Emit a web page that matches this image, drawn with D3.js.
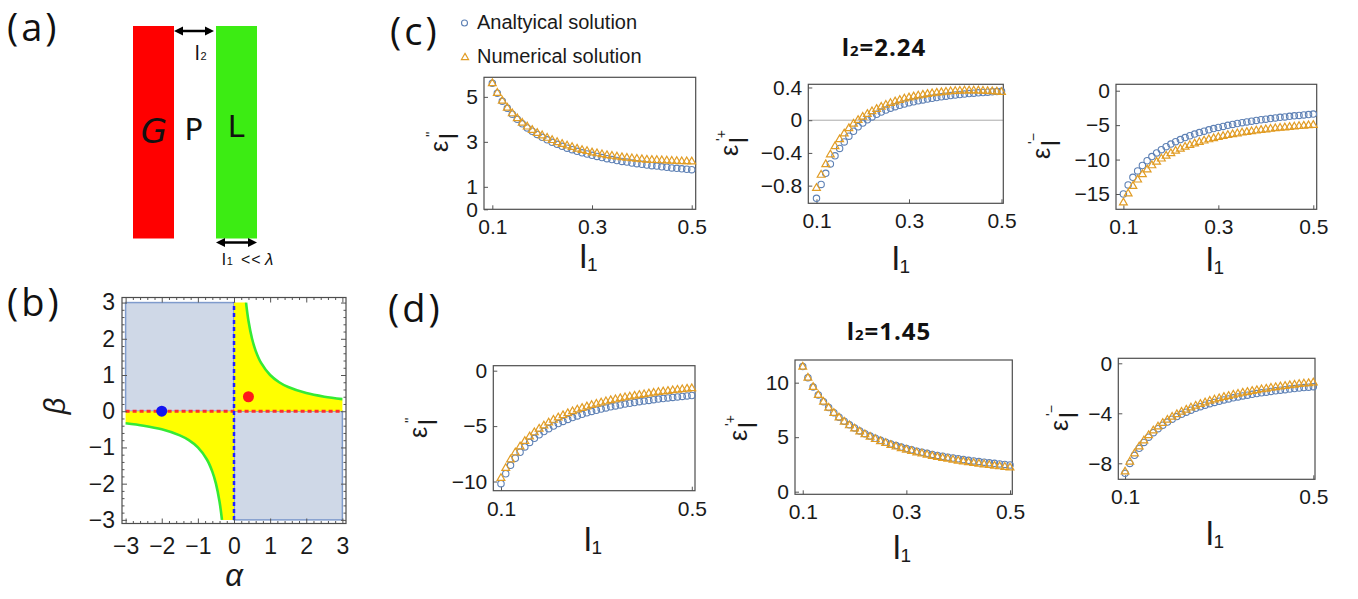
<!DOCTYPE html>
<html>
<head>
<meta charset="utf-8">
<script src="https://cdnjs.cloudflare.com/ajax/libs/d3/7.8.5/d3.min.js"></script>
<style>
  html, body { margin: 0; padding: 0; background: #fff; }
  svg { display: block; }
</style>
</head>
<body>
<script>
// ---------- data ----------
const l1 = [0.10,0.11,0.12,0.13,0.14,0.15,0.16,0.17,0.18,0.19,0.20,0.21,0.22,0.23,0.24,0.25,0.26,0.27,0.28,0.29,
  0.30,0.31,0.32,0.33,0.34,0.35,0.36,0.37,0.38,0.39,0.40,0.41,0.42,0.43,0.44,0.45,0.46,0.47,0.48,0.49,0.50];

// (c) l2 = 2.24
const c1Analytical = [5.60,5.16,4.80,4.49,4.23,4.00,3.80,3.62,3.47,3.33,3.20,3.09,2.98,2.89,2.80,2.72,2.65,2.58,2.51,2.46,
  2.40,2.35,2.30,2.25,2.21,2.17,2.13,2.10,2.06,2.03,2.00,1.97,1.94,1.92,1.89,1.87,1.84,1.82,1.80,1.78,1.76];
const c1Numerical = [5.60,5.17,4.82,4.51,4.26,4.04,3.84,3.67,3.52,3.39,3.28,3.17,3.07,2.98,2.90,2.83,2.76,2.69,2.63,2.58,
  2.52,2.48,2.44,2.40,2.37,2.34,2.31,2.28,2.26,2.24,2.22,2.20,2.19,2.18,2.17,2.16,2.15,2.14,2.13,2.13,2.12];
const c2Analytical = [-0.955,-0.785,-0.65,-0.535,-0.435,-0.345,-0.265,-0.195,-0.135,-0.08,-0.035,0.005,0.04,0.072,0.10,0.125,0.147,0.166,0.183,0.198,
  0.212,0.225,0.237,0.248,0.258,0.268,0.277,0.286,0.294,0.301,0.308,0.314,0.32,0.325,0.33,0.335,0.339,0.343,0.347,0.35,0.353];
const c2Numerical = [-0.83,-0.67,-0.54,-0.42,-0.32,-0.235,-0.165,-0.10,-0.045,0.0,0.04,0.075,0.107,0.136,0.162,0.186,0.208,0.228,0.246,0.262,
  0.276,0.289,0.30,0.31,0.319,0.327,0.334,0.34,0.346,0.351,0.355,0.358,0.36,0.361,0.361,0.36,0.358,0.355,0.352,0.348,0.344];
const c3Analytical = [-15.00,-13.68,-12.58,-11.65,-10.86,-10.17,-9.56,-9.03,-8.56,-8.13,-7.75,-7.40,-7.09,-6.80,-6.54,-6.30,-6.08,-5.87,-5.68,-5.50,
  -5.33,-5.18,-5.03,-4.89,-4.76,-4.64,-4.53,-4.42,-4.32,-4.22,-4.13,-4.04,-3.95,-3.87,-3.80,-3.72,-3.65,-3.59,-3.52,-3.46,-3.40];
const c3Numerical = [-16.25,-14.94,-13.85,-12.93,-12.15,-11.46,-10.86,-10.34,-9.88,-9.46,-9.09,-8.75,-8.45,-8.16,-7.91,-7.68,-7.47,-7.27,-7.09,-6.92,
  -6.76,-6.61,-6.47,-6.34,-6.22,-6.11,-6.01,-5.91,-5.82,-5.72,-5.64,-5.56,-5.48,-5.41,-5.35,-5.28,-5.22,-5.16,-5.10,-5.05,-5.00];

// (d) l2 = 1.45
const d1Analytical = [-10.20,-9.30,-8.54,-7.90,-7.36,-6.88,-6.47,-6.10,-5.78,-5.49,-5.23,-4.99,-4.77,-4.58,-4.40,-4.23,-4.08,-3.94,-3.80,-3.68,
  -3.57,-3.46,-3.36,-3.26,-3.18,-3.09,-3.01,-2.94,-2.87,-2.80,-2.74,-2.68,-2.62,-2.56,-2.51,-2.46,-2.41,-2.37,-2.32,-2.28,-2.24];
const d1Numerical = [-9.70,-8.80,-8.03,-7.39,-6.85,-6.36,-5.95,-5.58,-5.25,-4.96,-4.69,-4.45,-4.23,-4.03,-3.85,-3.68,-3.52,-3.38,-3.24,-3.11,
  -3.00,-2.89,-2.78,-2.68,-2.60,-2.50,-2.42,-2.35,-2.27,-2.20,-2.14,-2.07,-2.01,-1.94,-1.89,-1.84,-1.78,-1.74,-1.69,-1.64,-1.60];
const d2Analytical = [11.48,10.45,9.60,8.87,8.25,7.72,7.25,6.83,6.46,6.13,5.84,5.57,5.32,5.10,4.90,4.71,4.54,4.38,4.23,4.09,
  3.96,3.84,3.72,3.62,3.52,3.42,3.33,3.25,3.17,3.09,3.02,2.95,2.88,2.82,2.76,2.71,2.65,2.60,2.55,2.50,2.45];
const d2Numerical = [11.45,10.44,9.59,8.85,8.23,7.69,7.21,6.79,6.41,6.07,5.78,5.50,5.25,5.02,4.81,4.62,4.44,4.27,4.12,3.97,
  3.84,3.71,3.58,3.48,3.37,3.26,3.17,3.08,3.00,2.91,2.83,2.76,2.68,2.61,2.55,2.49,2.43,2.37,2.31,2.26,2.20];
const d3Analytical = [-8.80,-8.01,-7.36,-6.80,-6.33,-5.91,-5.55,-5.23,-4.95,-4.70,-4.47,-4.26,-4.08,-3.91,-3.75,-3.60,-3.47,-3.35,-3.23,-3.13,
  -3.03,-2.93,-2.85,-2.76,-2.69,-2.61,-2.55,-2.48,-2.42,-2.36,-2.31,-2.25,-2.20,-2.15,-2.11,-2.06,-2.02,-1.98,-1.94,-1.91,-1.87];
const d3Numerical = [-8.67,-7.88,-7.22,-6.66,-6.18,-5.76,-5.39,-5.07,-4.78,-4.53,-4.29,-4.08,-3.89,-3.72,-3.55,-3.40,-3.26,-3.14,-3.01,-2.91,
  -2.81,-2.70,-2.62,-2.52,-2.45,-2.36,-2.30,-2.22,-2.16,-2.09,-2.04,-1.97,-1.92,-1.86,-1.82,-1.76,-1.72,-1.67,-1.63,-1.60,-1.55];

// tick labels
const xTicks3 = [0.1, 0.3, 0.5];
const xTicks2 = [0.1, 0.5];
const c1YTicks = [0, 1, 3, 5];
const c2YTicks = [-0.8, -0.4, 0, 0.4];
const c3YTicks = [-15, -10, -5, 0];
const d1YTicks = [-10, -5, 0];
const d2YTicks = [0, 5, 10];
const d3YTicks = [-8, -4, 0];
const bTicks = [-3, -2, -1, 0, 1, 2, 3];

// (b) phase diagram
const hyperQ1 = [[0.333,3],[0.4,2.5],[0.5,2],[0.6,1.667],[0.75,1.333],[1,1],[1.25,0.8],[1.5,0.667],[2,0.5],[2.5,0.4],[3,0.333]];
const hyperQ3 = [[-0.333,-3],[-0.4,-2.5],[-0.5,-2],[-0.6,-1.667],[-0.75,-1.333],[-1,-1],[-1.25,-0.8],[-1.5,-0.667],[-2,-0.5],[-2.5,-0.4],[-3,-0.333]];
const bluePoint = [-2, 0];
const redPoint = [0.4, 0.4];

const legendLabels = ['Analtyical solution', 'Numerical solution'];

// ---------- drawing ----------
const W = 1358, H = 599;
const blue = '#5E81B5', orange = '#E19C24';
const tickFont = '"Liberation Sans", Arial, sans-serif';
const labelFont = '"Open Sans", "Liberation Sans", sans-serif';
const fmt = d => d === 0 ? '0' : (d < 0 ? '\u2212' : '') + Math.abs(d);

const svg = d3.select('body').append('svg').attr('width', W).attr('height', H);

function styleAxis(a, size) {
  a.select('.domain').remove();
  a.selectAll('line').attr('stroke', '#555');
  a.selectAll('text').attr('font-family', tickFont).attr('font-size', size).attr('fill', '#1a1a1a');
}

function plot(cfg) {
  const x = d3.scaleLinear().domain(cfg.xd).range([cfg.left, cfg.right]);
  const y = d3.scaleLinear().domain(cfg.yd).range([cfg.bottom, cfg.top]);
  const g = svg.append('g');

  if (cfg.zero) {
    g.append('line').attr('x1', cfg.left).attr('x2', cfg.right).attr('y1', y(0)).attr('y2', y(0))
      .attr('stroke', '#aaa').attr('stroke-width', 1);
  }
  const ax = g.append('g').attr('transform', `translate(0,${cfg.bottom})`)
    .call(d3.axisBottom(x).tickValues(cfg.xt).tickFormat(fmt).tickSizeInner(-4).tickSizeOuter(0).tickPadding(10));
  const ay = g.append('g').attr('transform', `translate(${cfg.left},0)`)
    .call(d3.axisLeft(y).tickValues(cfg.yt).tickFormat(fmt).tickSizeInner(-4).tickSizeOuter(0).tickPadding(6));
  styleAxis(ax, 21);
  styleAxis(ay, 21);

  g.append('rect').attr('x', cfg.left).attr('y', cfg.top)
    .attr('width', cfg.right - cfg.left).attr('height', cfg.bottom - cfg.top)
    .attr('fill', 'none').attr('stroke', '#4d4d4d').attr('stroke-width', 1.2);

  g.selectAll('circle.an').data(l1.map((l, i) => [l, cfg.a[i]])).enter().append('circle')
    .attr('class', 'an').attr('cx', d => x(d[0])).attr('cy', d => y(d[1])).attr('r', 3.2)
    .attr('fill', 'none').attr('stroke', blue).attr('stroke-width', 1.1);
  const tri = d3.symbol().type(d3.symbolTriangle).size(26);
  g.selectAll('path.nu').data(l1.map((l, i) => [l, cfg.n[i]])).enter().append('path')
    .attr('class', 'nu').attr('d', tri)
    .attr('transform', d => `translate(${x(d[0])},${y(d[1])})`)
    .attr('fill', 'none').attr('stroke', orange).attr('stroke-width', 1.2);

  xLabel(cfg.xl[0], cfg.xl[1]);
  yLabel(cfg.yl[0], cfg.yl[1], cfg.sup);
}

function xLabel(cx, base) {
  const t = svg.append('text').attr('x', cx).attr('y', base).attr('text-anchor', 'middle')
    .attr('font-family', tickFont).attr('fill', '#1a1a1a');
  t.append('tspan').attr('font-size', 34).text('l');
  t.append('tspan').attr('font-size', 19).attr('dy', 3).text('1');
}

function yLabel(cx, cy, sup) {
  const g = svg.append('g').attr('transform', `translate(${cx + 6.5},${cy + 6}) rotate(-90)`)
    .attr('font-family', tickFont).attr('fill', '#1a1a1a');
  g.append('text').attr('x', 0).attr('y', 0).attr('font-size', 25).text('\u03b5');
  g.append('text').attr('x', 13).attr('y', 10).attr('font-size', 26).text('l');
  g.append('text').attr('x', 15).attr('y', -12).attr('font-size', 14).text(sup);
}

function title(cx, base, val) {
  const t = svg.append('text').attr('x', cx).attr('y', base).attr('text-anchor', 'middle')
    .attr('font-family', labelFont).attr('font-weight', 'bold').attr('fill', '#111')
    .attr('letter-spacing', 1);
  t.append('tspan').attr('font-size', 24).text('l');
  t.append('tspan').attr('font-size', 15).text('2');
  t.append('tspan').attr('font-size', 24).text('=' + val);
}

function panelLabel(x, base, s) {
  svg.append('text').attr('x', x).attr('y', base).attr('font-family', labelFont)
    .attr('font-size', 38).attr('font-weight', 500).attr('letter-spacing', 3).attr('fill', '#111').text(s);
}

// ----- panel (a) -----
panelLabel(7, 41, '(a)');
svg.append('rect').attr('x', 133).attr('y', 26).attr('width', 41).attr('height', 212.5).attr('fill', '#ff0000');
svg.append('rect').attr('x', 216).attr('y', 26).attr('width', 41).attr('height', 212.5).attr('fill', '#3cec13');

function dblArrow(x1, x2, yy) {
  svg.append('line').attr('x1', x1 + 6).attr('x2', x2 - 6).attr('y1', yy).attr('y2', yy)
    .attr('stroke', '#000').attr('stroke-width', 2.5);
  svg.append('path').attr('d', `M${x1},${yy}L${x1 + 9},${yy - 4.5}L${x1 + 9},${yy + 4.5}Z`).attr('fill', '#000');
  svg.append('path').attr('d', `M${x2},${yy}L${x2 - 9},${yy - 4.5}L${x2 - 9},${yy + 4.5}Z`).attr('fill', '#000');
}
dblArrow(174, 214, 31);
dblArrow(216, 257, 242.5);

const lt2 = svg.append('text').attr('x', 195).attr('y', 60).attr('font-family', tickFont).attr('fill', '#111');
lt2.append('tspan').attr('font-size', 20).text('l');
lt2.append('tspan').attr('font-size', 11).attr('dx', 1).text('2');

const hand = '"Comic Sans MS", "DejaVu Sans", sans-serif';
svg.append('text').attr('x', 154).attr('y', 143).attr('text-anchor', 'middle').attr('font-family', hand)
  .attr('font-style', 'italic').attr('font-size', 34).attr('fill', '#111').text('G');
svg.append('text').attr('x', 193.5).attr('y', 140).attr('text-anchor', 'middle').attr('font-family', hand)
  .attr('font-size', 30).attr('fill', '#111').text('P');
svg.append('text').attr('x', 236).attr('y', 137).attr('text-anchor', 'middle').attr('font-family', hand)
  .attr('font-size', 30).attr('fill', '#111').text('L');

const lt1 = svg.append('text').attr('x', 222).attr('y', 265).attr('font-family', tickFont).attr('fill', '#111');
lt1.append('tspan').attr('font-size', 17).text('l');
lt1.append('tspan').attr('font-size', 11).attr('dx', 1).text('1');
svg.append('text').attr('x', 241).attr('y', 265).attr('font-family', tickFont).attr('font-size', 16)
  .attr('letter-spacing', 1).attr('fill', '#111').text('<<');
svg.append('text').attr('x', 265).attr('y', 265).attr('font-family', tickFont).attr('font-size', 17)
  .attr('font-style', 'italic').attr('fill', '#111').text('\u03bb');

// ----- panel (b) -----
panelLabel(7, 316, '(b)');
const xb = d3.scaleLinear().domain([-3.1, 3.1]).range([122, 346]);
const yb = d3.scaleLinear().domain([-3.1, 3.14]).range([523.5, 297.5]);
const gb = svg.append('g');

gb.append('rect').attr('x', xb(-3)).attr('y', yb(3)).attr('width', xb(0) - xb(-3)).attr('height', yb(0) - yb(3))
  .attr('fill', '#cfd8e7').attr('stroke', '#7f9bcc').attr('stroke-width', 1.5);
gb.append('rect').attr('x', xb(0)).attr('y', yb(0)).attr('width', xb(3) - xb(0)).attr('height', yb(-3) - yb(0))
  .attr('fill', '#cfd8e7').attr('stroke', '#7f9bcc').attr('stroke-width', 1.5);

const hyperLine = d3.line().x(d => xb(d[0])).y(d => yb(d[1])).curve(d3.curveCatmullRom.alpha(0.5));
const q1 = `M${xb(0)},${yb(0)}L${xb(0)},${yb(3)}` + hyperLine(hyperQ1).replace(/^M/, 'L') + `L${xb(3)},${yb(0)}Z`;
const q3 = `M${xb(0)},${yb(0)}L${xb(0)},${yb(-3)}` + hyperLine(hyperQ3).replace(/^M/, 'L') + `L${xb(-3)},${yb(0)}Z`;
gb.append('path').attr('d', q1).attr('fill', '#ffff00');
gb.append('path').attr('d', q3).attr('fill', '#ffff00');
[hyperQ1, hyperQ3].forEach(h => gb.append('path').attr('d', hyperLine(h)).attr('fill', 'none')
  .attr('stroke', '#35ea35').attr('stroke-width', 2.6));

gb.append('line').attr('x1', xb(-3)).attr('x2', xb(3)).attr('y1', yb(0)).attr('y2', yb(0))
  .attr('stroke', '#ff2d2d').attr('stroke-width', 3).attr('stroke-dasharray', '4,3');
gb.append('line').attr('x1', xb(0)).attr('x2', xb(0)).attr('y1', yb(-3)).attr('y2', yb(3))
  .attr('stroke', '#2222ff').attr('stroke-width', 2.5).attr('stroke-dasharray', '4,3');

gb.append('circle').attr('cx', xb(bluePoint[0])).attr('cy', yb(bluePoint[1])).attr('r', 5.5).attr('fill', '#1414f0');
gb.append('circle').attr('cx', xb(redPoint[0])).attr('cy', yb(redPoint[1])).attr('r', 5.5).attr('fill', '#ff1a1a');

// frame ticks
const minor = d3.range(-3, 3.001, 0.2).map(v => Math.round(v * 10) / 10).filter(v => !bTicks.includes(v));
['b', 't'].forEach(side => {
  const mk = side === 'b' ? d3.axisBottom : d3.axisTop;
  const a1 = gb.append('g').attr('transform', `translate(0,${side === 'b' ? 523.5 : 297.5})`)
    .call(mk(xb).tickValues(bTicks).tickFormat(side === 'b' ? fmt : '').tickSizeInner(-5).tickSizeOuter(0).tickPadding(14));
  const a2 = gb.append('g').attr('transform', `translate(0,${side === 'b' ? 523.5 : 297.5})`)
    .call(mk(xb).tickValues(minor).tickFormat('').tickSizeInner(-2.5).tickSizeOuter(0));
  styleAxis(a1, 23); styleAxis(a2, 23);
});
['l', 'r'].forEach(side => {
  const mk = side === 'l' ? d3.axisLeft : d3.axisRight;
  const a1 = gb.append('g').attr('transform', `translate(${side === 'l' ? 122 : 346},0)`)
    .call(mk(yb).tickValues(bTicks).tickFormat(side === 'l' ? fmt : '').tickSizeInner(-5).tickSizeOuter(0).tickPadding(7));
  const a2 = gb.append('g').attr('transform', `translate(${side === 'l' ? 122 : 346},0)`)
    .call(mk(yb).tickValues(minor).tickFormat('').tickSizeInner(-2.5).tickSizeOuter(0));
  styleAxis(a1, 23); styleAxis(a2, 23);
});
gb.append('rect').attr('x', 122).attr('y', 297.5).attr('width', 224).attr('height', 226)
  .attr('fill', 'none').attr('stroke', '#4d4d4d').attr('stroke-width', 1.2);

svg.append('text').attr('x', 234).attr('y', 586).attr('text-anchor', 'middle').attr('font-family', tickFont)
  .attr('font-style', 'italic').attr('font-size', 31).attr('fill', '#1a1a1a').text('\u03b1');
svg.append('text').attr('transform', 'translate(55,406) rotate(-90)').attr('text-anchor', 'middle')
  .attr('dominant-baseline', 'central').attr('font-family', tickFont).attr('font-style', 'italic')
  .attr('font-size', 29).attr('fill', '#1a1a1a').text('\u03b2');

// ----- panel (c) -----
panelLabel(390, 45, '(c)');
svg.append('circle').attr('cx', 464.5).attr('cy', 23).attr('r', 3).attr('fill', 'none')
  .attr('stroke', blue).attr('stroke-width', 1.1);
svg.append('path').attr('d', d3.symbol().type(d3.symbolTriangle).size(22))
  .attr('transform', 'translate(465,57.5)').attr('fill', 'none').attr('stroke', orange).attr('stroke-width', 1.2);
legendLabels.forEach((s, i) => svg.append('text').attr('x', 477).attr('y', 29 + i * 34)
  .attr('font-family', tickFont).attr('font-size', 20).attr('fill', '#1a1a1a').text(s));

title(884, 56, '2.24');
plot({ left: 484, right: 695.7, top: 77.3, bottom: 209.3, xd: [0.0833, 0.508], yd: [0, 5.87],
  xt: xTicks3, yt: c1YTicks, a: c1Analytical, n: c1Numerical, xl: [588.5, 268], yl: [441, 146], sup: "''" });
plot({ left: 808.3, right: 1003.3, top: 84.3, bottom: 203.3, xd: [0.0823, 0.5039], yd: [-1.016, 0.439],
  xt: xTicks3, yt: c2YTicks, a: c2Analytical, n: c2Numerical, xl: [901, 270], yl: [731.5, 150], sup: "'+", zero: true });
plot({ left: 1116, right: 1316.7, top: 84.3, bottom: 209.3, xd: [0.0844, 0.5072], yd: [-17.22, 0.93],
  xt: xTicks3, yt: c3YTicks, a: c3Analytical, n: c3Numerical, xl: [1215, 271], yl: [1043, 153], sup: "'\u2212" });

// ----- panel (d) -----
panelLabel(388, 322, '(d)');
title(889, 340, '1.45');
plot({ left: 493.3, right: 695, top: 365.7, bottom: 490.7, xd: [0.0839, 0.5067], yd: [-10.83, 0.45],
  xt: xTicks2, yt: d1YTicks, a: d1Analytical, n: d1Numerical, xl: [593, 551], yl: [420.5, 432], sup: "''" });
plot({ left: 795, right: 1012.3, top: 360, bottom: 494.3, xd: [0.0851, 0.5044], yd: [-0.24, 12.08],
  xt: xTicks3, yt: d2YTicks, a: d2Analytical, n: d2Numerical, xl: [902, 559], yl: [740.5, 435], sup: "'+" });
plot({ left: 1118.3, right: 1315, top: 358.3, bottom: 479.3, xd: [0.0856, 0.5036], yd: [-9.28, 0.40],
  xt: xTicks2, yt: d3YTicks, a: d3Analytical, n: d3Numerical, xl: [1215, 545], yl: [1061, 425], sup: "'\u2212" });
</script>
</body>
</html>
